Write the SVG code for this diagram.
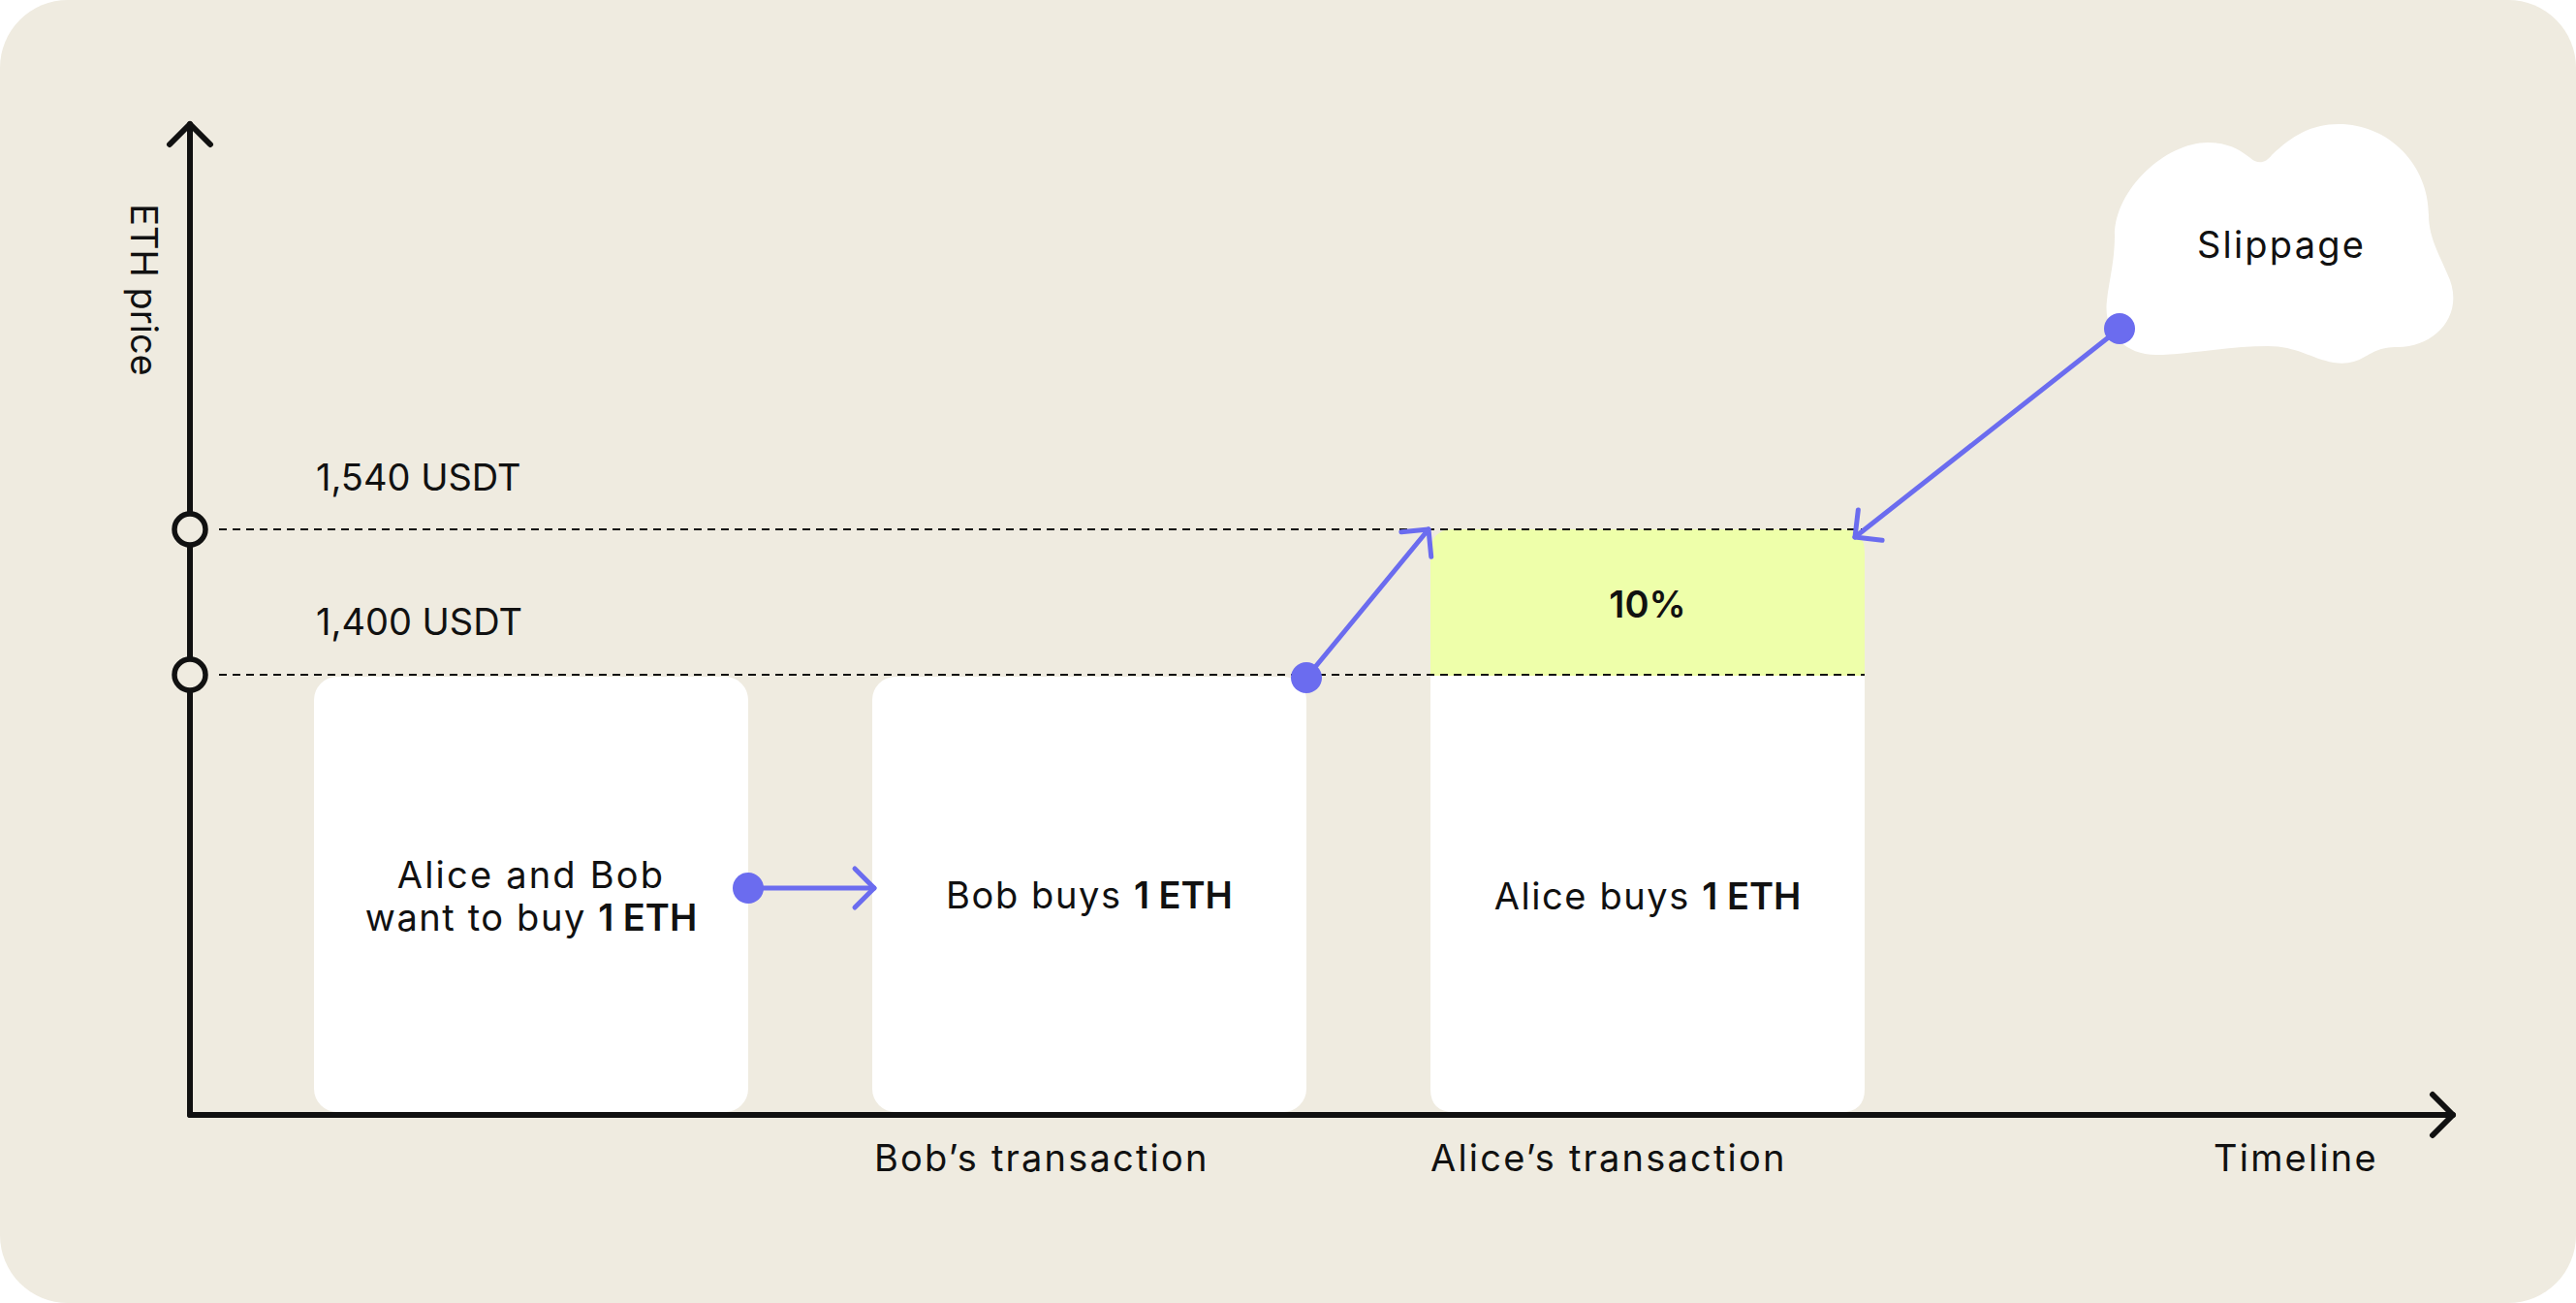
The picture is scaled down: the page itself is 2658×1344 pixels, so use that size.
<svg xmlns="http://www.w3.org/2000/svg" width="2658" height="1344" viewBox="0 0 2658 1344">
<defs>
<style>
.t{font-family:Inter,"Noto Sans","Liberation Sans",sans-serif;font-size:38px;fill:#111111}
.w{letter-spacing:2.2px}
.m{letter-spacing:1.6px}
.b{font-weight:600;letter-spacing:0px}
.c{text-anchor:middle}
.box{fill:#ffffff}
.axis{stroke:#111111;stroke-width:6;fill:none;stroke-linecap:round;stroke-linejoin:round}
.dash{stroke:#111111;stroke-width:2.2;stroke-dasharray:8 6;fill:none}
.conn{stroke:#6B6CEF;stroke-width:5;fill:none;stroke-linecap:round}
.dot{fill:#6B6CEF}
.tick{fill:#EFEBE0;stroke:#111111;stroke-width:5.5}
</style>
<marker id="ah" markerUnits="userSpaceOnUse" markerWidth="50" markerHeight="50" refX="25" refY="25" orient="auto" viewBox="0 0 50 50">
<path d="M5,5 L25,25 L5,45" fill="none" stroke="#6B6CEF" stroke-width="5" stroke-linecap="round" stroke-linejoin="round"/>
</marker>
<marker id="axh" markerUnits="userSpaceOnUse" markerWidth="50" markerHeight="50" refX="25" refY="25" orient="auto" viewBox="0 0 50 50">
<path d="M4,4 L25,25 L4,46" fill="none" stroke="#111111" stroke-width="6" stroke-linecap="round" stroke-linejoin="round"/>
</marker>
</defs>
<rect id="background" x="0" y="0" width="2658" height="1344" rx="70" fill="#EFEBE0"/>

<g id="axes">
<line class="axis" x1="196" y1="1150" x2="196" y2="128" marker-end="url(#axh)"/>
<line class="axis" x1="196" y1="1150" x2="2531" y2="1150" marker-end="url(#axh)"/>
<text class="t c" transform="translate(135,299) rotate(90)">ETH price</text>
<text class="t w" x="2284" y="1208">Timeline</text>
</g>

<g id="box-alice-bob">
<rect class="box" x="324" y="698" width="448" height="449" rx="24"/>
<text class="t c w" x="548" y="916">Alice and Bob</text>
<text class="t c m" x="548" y="960">want to buy <tspan class="b">1 ETH</tspan></text>
</g>

<g id="box-bob-buys">
<rect class="box" x="900" y="698" width="448" height="449" rx="24"/>
<text class="t c m" x="1124" y="937">Bob buys <tspan class="b">1 ETH</tspan></text>
<text class="t w" x="902" y="1208">Bob’s transaction</text>
</g>

<g id="box-alice-buys">
<path class="box" d="M1476,696 H1924 V1123 Q1924,1147 1900,1147 H1500 Q1476,1147 1476,1123 Z"/>
<path fill="#EEFFAA" d="M1476,697 V570 Q1476,546 1500,546 H1900 Q1924,546 1924,570 V697 Z"/>
<text class="t c b" x="1700" y="637">10%</text>
<text class="t c m" x="1700" y="938">Alice buys <tspan class="b">1 ETH</tspan></text>
<text class="t w" x="1476" y="1208">Alice’s transaction</text>
</g>

<g id="price-levels">
<line class="dash" x1="226" y1="546" x2="1924" y2="546"/>
<line class="dash" x1="226" y1="696" x2="1924" y2="696"/>
<circle class="tick" cx="196" cy="546" r="16"/>
<circle class="tick" cx="196" cy="696" r="16"/>
<text class="t" x="326" y="506">1,540 USDT</text>
<text class="t" x="326" y="655">1,400 USDT</text>
</g>

<g id="slippage">
<path fill="#ffffff" d="M2182,243 C2182,195 2235,147 2278,147 C2300,147 2312,155 2322,163 C2330,170 2338,168 2344,160 C2365,140 2385,128 2413,128 C2465,128 2506,170 2506,222 C2506,245 2518,265 2525,282 C2545,322 2515,358 2474,358 C2455,358 2448,364 2440,368 C2430,374 2420,376 2408,374 C2385,370 2370,357 2340,357 C2300,357 2255,366 2225,366 C2190,366 2170,340 2174,310 C2176,290 2182,270 2182,243 Z"/>
<text class="t c w" x="2354" y="266">Slippage</text>
</g>

<g id="connectors">
<line class="conn" x1="772" y1="916" x2="902" y2="916" marker-end="url(#ah)"/>
<circle class="dot" cx="772" cy="916" r="16"/>
<line class="conn" x1="1348" y1="699" x2="1474" y2="546" marker-end="url(#ah)"/>
<circle class="dot" cx="1348" cy="699" r="16"/>
<line class="conn" x1="2187" y1="339" x2="1914" y2="554" marker-end="url(#ah)"/>
<circle class="dot" cx="2187" cy="339" r="16"/>
</g>
</svg>
